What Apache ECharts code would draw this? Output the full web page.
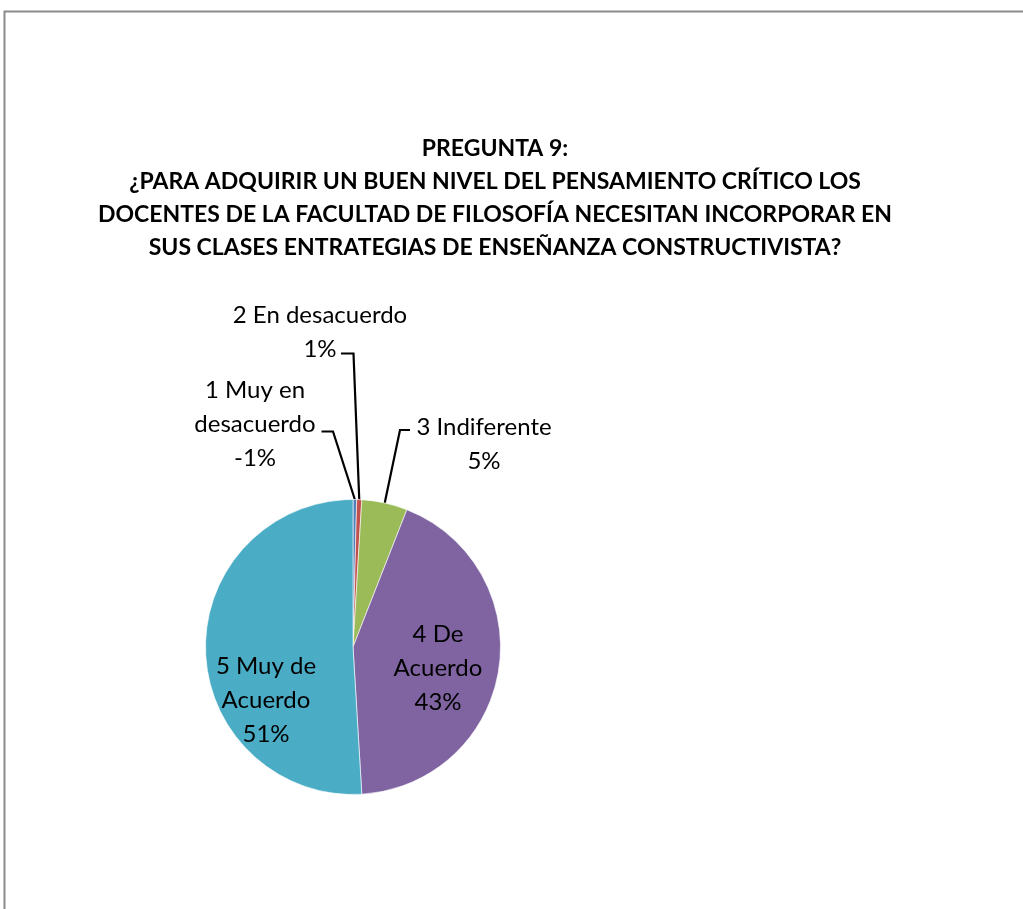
<!DOCTYPE html>
<html>
<head>
<meta charset="utf-8">
<script src="https://cdn.jsdelivr.net/npm/echarts@6/dist/echarts.min.js"></script>
<style>
html,body{margin:0;padding:0;background:#fff;}
#c{width:1023px;height:909px;}
</style>
</head>
<body>
<div id="c"></div>
<script>
// ---- data ----
var titleLines = [
  'PREGUNTA 9:',
  '¿PARA ADQUIRIR UN BUEN NIVEL DEL PENSAMIENTO CRÍTICO LOS',
  'DOCENTES DE LA FACULTAD DE FILOSOFÍA NECESITAN INCORPORAR EN',
  'SUS CLASES ENTRATEGIAS DE ENSEÑANZA CONSTRUCTIVISTA?'
];
var categories = ['1 Muy en\ndesacuerdo', '2 En desacuerdo', '3 Indiferente', '4 De\nAcuerdo', '5 Muy de\nAcuerdo'];
// slice sizes as drawn (share of the circle, %)
var sliceValues = [0.4, 0.55, 5, 43.1, 50.95];
// percentages printed on the labels
var shownPercent = [-1, 1, 5, 43, 51];
var colors = ['#4F81BD', '#C0504D', '#9BBB59', '#8064A2', '#4BACC6'];

// ---- layout (pixels) ----
var CX = 353, CY = 647, R = 147.5;
var labelOffset = [[-98, -223], [-33, -315], [131, -203], [85, 21], [-87, 53]];
var leaderElbow = [[-20, -215.5], [0.5, -293.5], [47, -217], null, null];
var leaderEnd = [[-31.5, -215.5], [-12, -293.5], [57, -217], null, null];

var chart = echarts.init(document.getElementById('c'), null, {renderer: 'canvas'});

var data = categories.map(function (n, i) {
  return {
    name: n,
    value: sliceValues[i],
    itemStyle: {color: colors[i]},
    labelLine: {show: !!leaderElbow[i]}
  };
});

chart.setOption({
  backgroundColor: '#ffffff',
  animation: false,
  title: {
    text: titleLines.join('\n'),
    left: 495,
    top: 132,
    padding: 0,
    textAlign: 'center',
    textStyle: {
      fontFamily: 'Lato',
      fontWeight: 'bold',
      fontSize: 23,
      lineHeight: 33,
      color: '#000'
    }
  },
  graphic: [{
    type: 'rect',
    shape: {x: 4.5, y: 11.5, width: 1200, height: 1200},
    style: {fill: 'none', stroke: '#8a8a8a', lineWidth: 2},
    silent: true,
    z: -1
  }],
  series: [{
    type: 'pie',
    center: [CX, CY],
    radius: [0, R],
    startAngle: 90,
    clockwise: true,
    avoidLabelOverlap: false,
    itemStyle: {borderColor: '#ffffff', borderWidth: 0.6},
    label: {
      show: true,
      position: 'outside',
      fontFamily: 'Lato',
      fontSize: 24,
      lineHeight: 34,
      color: '#000',
      align: 'center',
      formatter: function (p) {
        return categories[p.dataIndex] + '\n' + shownPercent[p.dataIndex] + '%';
      }
    },
    labelLine: {
      length: 20,
      length2: 10,
      lineStyle: {color: '#000', width: 2.2}
    },
    labelLayout: function (p) {
      var i = p.dataIndex;
      var o = labelOffset[i];
      var res = {x: CX + o[0], y: CY + o[1], align: 'center', verticalAlign: 'middle'};
      if (leaderElbow[i] && p.labelLinePoints) {
        res.labelLinePoints = [
          p.labelLinePoints[0],
          [CX + leaderElbow[i][0], CY + leaderElbow[i][1]],
          [CX + leaderEnd[i][0], CY + leaderEnd[i][1]]
        ];
      }
      return res;
    },
    data: data
  }]
});
</script>
</body>
</html>
